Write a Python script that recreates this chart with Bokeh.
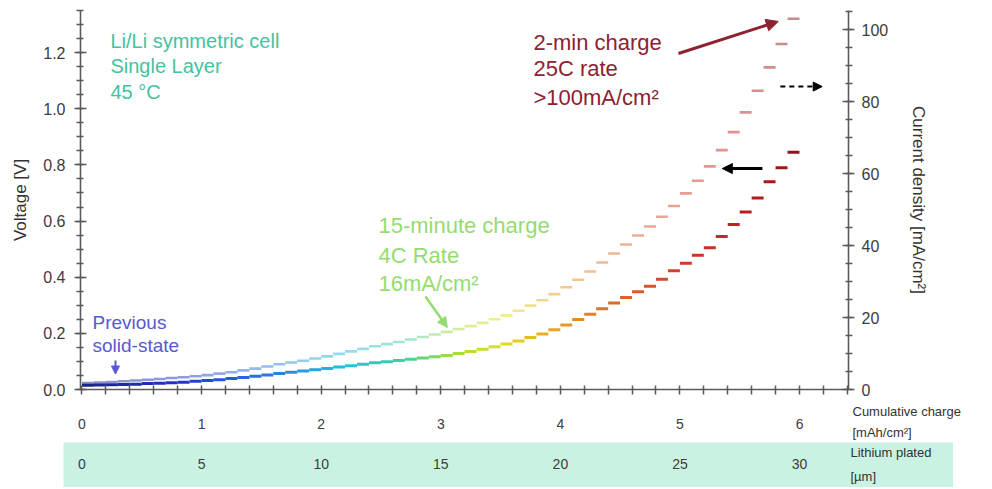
import numpy as np
from bokeh.plotting import figure
from bokeh.models import (Range1d, LinearAxis, SingleIntervalTicker, FixedTicker,
                          PrintfTickFormatter, Label, Arrow, NormalHead,
                          ColumnDataSource, Spacer)
from bokeh.layouts import column, row
from bokeh.embed import file_html
from bokeh.resources import INLINE
from bokeh.core.properties import value

# ---------------- data ----------------
step_start = [0.0, 0.1, 0.2, 0.3, 0.4, 0.5, 0.6, 0.7, 0.8, 0.9,
              1.0, 1.1, 1.2, 1.3, 1.4, 1.5, 1.6, 1.7, 1.8, 1.9,
              2.0, 2.1, 2.2, 2.3, 2.4, 2.5, 2.6, 2.7, 2.8, 2.9,
              3.0, 3.1, 3.2, 3.3, 3.4, 3.5, 3.6, 3.7, 3.8, 3.9,
              4.0, 4.1, 4.2, 4.3, 4.4, 4.5, 4.6, 4.7, 4.8, 4.9,
              5.0, 5.1, 5.2, 5.3, 5.4, 5.5, 5.6, 5.7, 5.8, 5.9]
step_end = [0.1, 0.2, 0.3, 0.4, 0.5, 0.6, 0.7, 0.8, 0.9, 1.0,
            1.1, 1.2, 1.3, 1.4, 1.5, 1.6, 1.7, 1.8, 1.9, 2.0,
            2.1, 2.2, 2.3, 2.4, 2.5, 2.6, 2.7, 2.8, 2.9, 3.0,
            3.1, 3.2, 3.3, 3.4, 3.5, 3.6, 3.7, 3.8, 3.9, 4.0,
            4.1, 4.2, 4.3, 4.4, 4.5, 4.6, 4.7, 4.8, 4.9, 5.0,
            5.1, 5.2, 5.3, 5.4, 5.5, 5.6, 5.7, 5.8, 5.9, 6.0]
current_density = [1.8, 1.9, 2.1, 2.3, 2.5, 2.7, 2.9, 3.2, 3.4, 3.7,
                   4.0, 4.4, 4.8, 5.3, 5.8, 6.4, 7.0, 7.5, 8.0, 8.6,
                   9.2, 9.9, 10.6, 11.3, 12.0, 12.6, 13.2, 13.9, 14.6, 15.3,
                   16.0, 16.8, 17.6, 18.5, 19.5, 20.6, 21.9, 23.3, 24.8, 26.5,
                   28.4, 30.5, 32.8, 35.3, 37.8, 40.3, 42.8, 45.3, 48.0, 51.0,
                   54.5, 58.0, 62.0, 66.5, 71.5, 77.0, 83.0, 89.5, 96.0, 103.0]
voltage = [0.015, 0.016, 0.017, 0.018, 0.019, 0.021, 0.022, 0.024, 0.026, 0.029,
           0.032, 0.035, 0.039, 0.043, 0.047, 0.052, 0.057, 0.061, 0.066, 0.070,
           0.075, 0.080, 0.085, 0.090, 0.095, 0.099, 0.103, 0.108, 0.112, 0.117,
           0.121, 0.128, 0.135, 0.143, 0.152, 0.162, 0.173, 0.185, 0.198, 0.213,
           0.230, 0.249, 0.268, 0.288, 0.308, 0.328, 0.348, 0.368, 0.393, 0.423,
           0.450, 0.478, 0.505, 0.545, 0.588, 0.632, 0.682, 0.740, 0.790, 0.845]
charge_ticks = [0, 1, 2, 3, 4, 5, 6]
charge_minor_ticks = [0.0, 0.2, 0.4, 0.6, 0.8, 1.0, 1.2, 1.4, 1.6, 1.8, 2.0, 2.2, 2.4,
                      2.6, 2.8, 3.0, 3.2, 3.4, 3.6, 3.8, 4.0, 4.2, 4.4, 4.6, 4.8, 5.0,
                      5.2, 5.4, 5.6, 5.8, 6.0, 6.2, 6.4]
lithium_ticks = [0, 5, 10, 15, 20, 25, 30]

# ---------------- colour map (jet-like, along cumulative charge) ----------------
stop_x = [0.0, 0.8, 1.6, 2.2, 2.7, 3.1, 3.5, 3.9, 4.4, 5.0, 5.5, 6.0]
stop_hex = ["#1a237e", "#2233cc", "#2a7fe0", "#22c0e0", "#40d0a0", "#a0dc40",
            "#e0e020", "#eaa820", "#dc7028", "#d04028", "#c02020", "#8a1414"]


def hex2rgb(h):
    return [int(h[i:i + 2], 16) for i in (1, 3, 5)]


stop_rgb = np.array([hex2rgb(h) for h in stop_hex], dtype=float)
centres = (np.array(step_start) + np.array(step_end)) / 2
cols = []
for c in centres:
    r, g, b = [int(round(np.interp(c, stop_x, stop_rgb[:, k]))) for k in range(3)]
    cols.append("#%02x%02x%02x" % (r, g, b))

src = ColumnDataSource(dict(x0=step_start, x1=step_end, cur=current_density,
                            v=voltage, col=cols))

FONT = "Liberation Sans"
TICK_COL = "#3c3c3c"
AX_COL = "#5a5a5a"
LAB_COL = "#333333"

# pixel geometry of the reference: x = 0 at px 81.5, 119.6 px per mAh/cm2
X0_PX, X_SCALE = 81.5, 119.6

# ---------------- main figure ----------------
p = figure(width=992, height=397, x_range=Range1d(-0.0125, 6.41), y_range=Range1d(0, 1.35),
           output_backend="svg", toolbar_location=None,
           min_border_left=80, min_border_right=144, min_border_top=10, min_border_bottom=8)
p.extra_y_ranges = {"cur": Range1d(0, 105.3)}
p.grid.visible = False
p.outline_line_color = None

# bottom axis: tick marks only (its numbers are drawn in the strip below)
p.xaxis.ticker = FixedTicker(ticks=[], minor_ticks=charge_minor_ticks)
p.yaxis.ticker = SingleIntervalTicker(interval=0.2, num_minor_ticks=4)
p.yaxis.formatter = PrintfTickFormatter(format="%.1f")

right = LinearAxis(y_range_name="cur", ticker=SingleIntervalTicker(interval=20, num_minor_ticks=4))
p.add_layout(right, "right")

for ax in [p.xaxis[0], p.yaxis[0], right]:
    ax.axis_line_color = AX_COL
    ax.axis_line_width = 1.6
    ax.major_tick_line_color = AX_COL
    ax.major_tick_line_width = 1.6
    ax.minor_tick_line_color = AX_COL
    ax.minor_tick_line_width = 1.5
    ax.major_tick_in = 6
    ax.major_tick_out = 6
    ax.minor_tick_in = 3
    ax.minor_tick_out = 4
    ax.major_label_text_font = FONT
    ax.major_label_text_color = TICK_COL
    ax.axis_label_text_font = FONT
    ax.axis_label_text_font_style = "normal"
    ax.axis_label_text_color = LAB_COL
    ax.axis_label_text_font_size = "17px"

p.xaxis.minor_tick_in = 4
p.xaxis.minor_tick_out = 5
p.yaxis.major_label_text_font_size = "16px"
p.yaxis.major_label_standoff = 9
p.yaxis.axis_label = "Voltage [V]"
p.yaxis.axis_label_standoff = 10
right.major_label_text_font_size = "16px"
right.major_label_standoff = 7
right.axis_label = "Current density [mA/cm²]"
right.axis_label_standoff = 18

# step curves
p.segment(x0="x0", y0="cur", x1="x1", y1="cur", source=src, y_range_name="cur",
          line_color="col", line_width=2.6, line_alpha=0.5)
p.segment(x0="x0", y0="v", x1="x1", y1="v", source=src,
          line_color="col", line_width=3)


def lab(x, y, text, size, color):
    p.add_layout(Label(x=x, y=y, text=text, text_font=FONT, text_font_size=size,
                       text_color=color, text_align="left", text_baseline="alphabetic"))


# annotations
TEAL = "#43c2a2"
for yy, t in zip([1.243, 1.154, 1.061], ["Li/Li symmetric cell", "Single Layer", "45 °C"]):
    lab(0.238, yy, t, "20px", TEAL)

RED = "#8c2232"
for yy, t in zip([1.236, 1.143, 1.040], ["2-min charge", "25C rate", ">100mA/cm²"]):
    lab(3.775, yy, t, "22px", RED)

GREEN = "#94dc70"
for yy, t in zip([0.584, 0.477, 0.377], ["15-minute charge", "4C Rate", "16mA/cm²"]):
    lab(2.479, yy, t, "22px", GREEN)

BLUE = "#5858d4"
for yy, t in zip([0.239, 0.157], ["Previous", "solid-state"]):
    lab(0.088, yy, t, "19px", BLUE)

# arrows
p.add_layout(Arrow(x_start=2.872, y_start=0.331, x_end=3.056, y_end=0.221,
                   line_color=GREEN, line_width=2.5,
                   end=NormalHead(size=10, fill_color=GREEN, line_color=GREEN)))
p.add_layout(Arrow(x_start=0.28, y_start=0.103, x_end=0.28, y_end=0.055,
                   line_color=BLUE, line_width=2,
                   end=NormalHead(size=8, fill_color=BLUE, line_color=BLUE)))
p.add_layout(Arrow(x_start=4.988, y_start=1.197, x_end=5.823, y_end=1.311,
                   line_color=RED, line_width=3,
                   end=NormalHead(size=12, fill_color=RED, line_color=RED)))
p.add_layout(Arrow(x_start=5.84, y_start=1.079, x_end=6.19, y_end=1.079,
                   line_color="black", line_width=2, line_dash="5 4",
                   end=NormalHead(size=9, fill_color="black", line_color="black")))
p.add_layout(Arrow(x_start=5.69, y_start=0.787, x_end=5.355, y_end=0.787,
                   line_color="black", line_width=3,
                   end=NormalHead(size=10, fill_color="black", line_color="black")))

# ---------------- charge tick-label strip (same horizontal scale) ----------------
s = figure(width=991, height=45,
           x_range=Range1d((1 - X0_PX) / X_SCALE, (992 - X0_PX) / X_SCALE),
           y_range=Range1d(0, 1), output_backend="svg", toolbar_location=None,
           x_axis_location=None, y_axis_location=None,
           min_border_left=0, min_border_right=0, min_border_top=0, min_border_bottom=0)
s.grid.visible = False
s.outline_line_color = None
ssrc = ColumnDataSource(dict(x=charge_ticks, t=[str(v) for v in charge_ticks]))
s.text(x="x", y=0.42, text="t", source=ssrc, text_font=value(FONT), text_font_size="14px",
       text_color=TICK_COL, text_align="center", text_baseline="middle")
s.text(x=[(852 - X0_PX) / X_SCALE] * 2, y=[0.69, 0.23],
       text=["Cumulative charge", "[mAh/cm²]"], text_font=value(FONT),
       text_font_size="13px", text_color=LAB_COL, text_align="left",
       text_baseline="middle")

# ---------------- lithium plated band ----------------
BAND = "#c9f2e3"
UM_PER_MAH = 5.0
b = figure(width=890, height=45,
           x_range=Range1d((63 - X0_PX) / X_SCALE * UM_PER_MAH, (953 - X0_PX) / X_SCALE * UM_PER_MAH),
           y_range=Range1d(0, 1),
           output_backend="svg", toolbar_location=None,
           x_axis_location=None, y_axis_location=None,
           min_border_left=0, min_border_right=0, min_border_top=0, min_border_bottom=0,
           background_fill_color=BAND, border_fill_color=BAND)
b.grid.visible = False
b.outline_line_color = None
bsrc = ColumnDataSource(dict(x=lithium_ticks, t=[str(v) for v in lithium_ticks]))
b.text(x="x", y=0.52, text="t", source=bsrc, text_font=value(FONT), text_font_size="14px",
       text_color=TICK_COL, text_align="center", text_baseline="middle")
b.text(x=[(850 - X0_PX) / X_SCALE * UM_PER_MAH] * 2, y=[0.78, 0.25],
       text=["Lithium plated", "[µm]"], text_font=value(FONT), text_font_size="13px",
       text_color=LAB_COL, text_align="left", text_baseline="middle")

layout = column(p, row(Spacer(width=1, height=45), s), row(Spacer(width=63, height=45), b))
open("out.html", "w").write(file_html(layout, INLINE))
